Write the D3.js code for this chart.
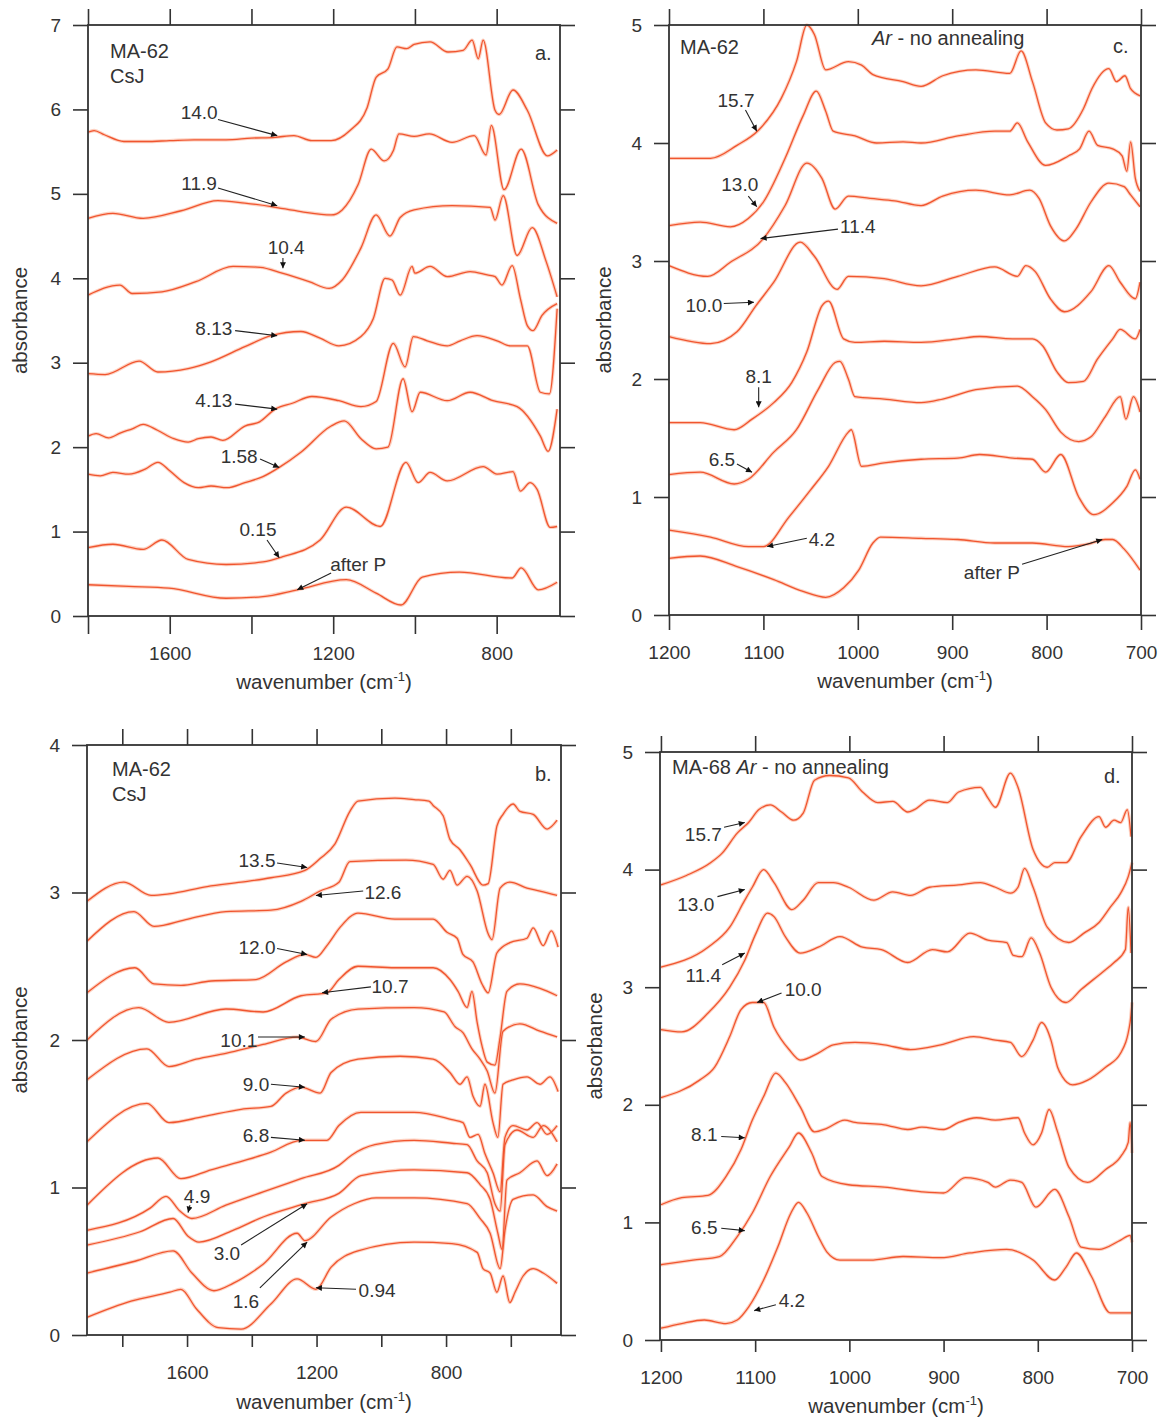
<!DOCTYPE html>
<html>
<head>
<meta charset="utf-8">
<script src="https://cdn.jsdelivr.net/npm/d3@7"></script>
<style>
  body { margin: 0; background: #fff; }
  text { font-family: "Liberation Sans", Arial, sans-serif; fill: #333; }
</style>
</head>
<body>
<svg id="chart" width="1167" height="1419"></svg>
<script>
// ---- data: [wavenumber cm-1, absorbance] ----

// panel a (MA-62, CsJ)
const a14_0 = [[1800,5.73],[1785,5.75],[1760,5.70],[1712,5.62],[1660,5.62],[1600,5.63],[1540,5.64],[1462,5.64],[1400,5.66],[1342,5.67],[1296,5.69],[1252,5.63],[1205,5.63],[1159,5.75],[1117,6.02],[1095,6.38],[1066,6.48],[1044,6.74],[1020,6.72],[1002,6.77],[963,6.80],[919,6.68],[882,6.70],[860,6.82],[845,6.60],[833,6.82],[804,5.99],[794,5.94],[760,6.23],[725,5.99],[676,5.45],[652,5.52]];
const a11_9 = [[1800,4.71],[1739,4.77],[1665,4.71],[1572,4.80],[1482,4.92],[1416,4.89],[1352,4.85],[1279,4.79],[1205,4.75],[1178,4.81],[1139,5.11],[1107,5.53],[1075,5.39],[1053,5.51],[1039,5.71],[1002,5.68],[965,5.71],[909,5.61],[855,5.69],[826,5.46],[813,5.81],[782,5.05],[740,5.53],[698,4.87],[652,4.65]];
const a10_4 = [[1800,3.80],[1722,3.92],[1692,3.82],[1619,3.84],[1536,3.96],[1445,4.14],[1379,4.13],[1325,4.06],[1259,3.96],[1210,3.88],[1178,3.98],[1132,4.36],[1095,4.75],[1061,4.50],[1036,4.72],[1002,4.81],[909,4.86],[816,4.84],[804,4.69],[784,4.98],[750,4.27],[713,4.60],[679,4.20],[652,3.78]];
const a8_13 = [[1800,2.87],[1758,2.86],[1675,3.02],[1629,2.89],[1555,2.93],[1499,3.01],[1416,3.19],[1352,3.32],[1279,3.37],[1232,3.29],[1186,3.20],[1132,3.31],[1102,3.52],[1073,4.00],[1056,3.98],[1036,3.80],[1007,4.14],[1000,4.06],[963,4.14],[921,4.02],[865,4.08],[823,4.04],[804,4.02],[787,3.92],[762,4.15],[742,3.76],[725,3.44],[711,3.38],[689,3.56],[652,3.70]];
const a4_13 = [[1800,2.13],[1780,2.16],[1750,2.11],[1720,2.17],[1690,2.22],[1665,2.27],[1630,2.20],[1590,2.10],[1555,2.06],[1530,2.10],[1499,2.12],[1470,2.08],[1416,2.25],[1380,2.30],[1342,2.45],[1300,2.52],[1252,2.60],[1186,2.55],[1132,2.48],[1095,2.54],[1053,3.23],[1024,2.95],[1004,3.31],[970,3.26],[921,3.20],[889,3.26],[848,3.32],[799,3.26],[767,3.20],[725,3.20],[693,2.65],[671,2.63],[652,3.64]];
const a1_58 = [[1800,1.68],[1770,1.66],[1739,1.70],[1700,1.68],[1660,1.74],[1629,1.82],[1600,1.72],[1565,1.58],[1530,1.52],[1499,1.54],[1460,1.52],[1416,1.58],[1372,1.65],[1332,1.76],[1279,1.94],[1205,2.25],[1173,2.31],[1132,2.10],[1095,1.98],[1066,2.00],[1029,2.81],[1007,2.42],[987,2.65],[921,2.55],[865,2.65],[809,2.55],[750,2.48],[693,2.13],[674,1.95],[652,2.45]];
const a0_15 = [[1800,0.81],[1739,0.85],[1665,0.79],[1619,0.90],[1555,0.67],[1462,0.61],[1372,0.64],[1325,0.70],[1232,0.90],[1168,1.29],[1085,1.06],[1022,1.82],[992,1.58],[963,1.70],[921,1.60],[833,1.77],[799,1.68],[760,1.71],[742,1.48],[718,1.58],[701,1.50],[669,1.05],[652,1.06]];
const aAfterP = [[1800,0.37],[1700,0.35],[1602,0.33],[1462,0.21],[1372,0.23],[1288,0.31],[1168,0.43],[1095,0.27],[1034,0.13],[982,0.46],[891,0.52],[762,0.45],[740,0.57],[698,0.31],[652,0.40]];

// panel c (MA-62, Ar - no annealing)
const c15_7 = [[1199,3.87],[1156,3.87],[1128,3.98],[1105,4.11],[1081,4.38],[1065,4.69],[1054,5.0],[1046,4.92],[1034,4.62],[1010,4.69],[996,4.66],[984,4.58],[952,4.52],[933,4.48],[910,4.57],[875,4.62],[839,4.59],[827,4.78],[815,4.52],[801,4.17],[789,4.11],[777,4.12],[761,4.29],[752,4.46],[734,4.63],[726,4.52],[717,4.57],[711,4.46],[701,4.40]];
const c13_0 = [[1200,3.30],[1167,3.33],[1135,3.29],[1116,3.36],[1100,3.50],[1077,3.87],[1058,4.23],[1044,4.44],[1034,4.27],[1026,4.10],[1003,4.06],[980,4.00],[952,4.01],[933,4.00],[894,4.06],[855,4.10],[839,4.10],[831,4.17],[820,4.01],[801,3.81],[777,3.89],[765,3.95],[755,4.10],[746,3.98],[730,3.95],[720,3.89],[715,3.76],[711,4.01],[706,3.70],[701,3.59]];
const c11_4 = [[1200,2.96],[1159,2.87],[1135,2.99],[1100,3.19],[1077,3.47],[1054,3.83],[1038,3.70],[1024,3.44],[1010,3.55],[987,3.53],[961,3.51],[933,3.47],[910,3.55],[875,3.60],[839,3.56],[818,3.60],[808,3.53],[796,3.30],[781,3.17],[769,3.27],[753,3.50],[734,3.66],[718,3.63],[711,3.56],[701,3.46]];
const c10_0 = [[1200,2.36],[1156,2.30],[1128,2.40],[1108,2.62],[1089,2.82],[1061,3.16],[1046,3.04],[1022,2.76],[1010,2.87],[972,2.85],[933,2.79],[894,2.87],[855,2.95],[831,2.87],[822,2.96],[812,2.91],[796,2.68],[781,2.57],[753,2.74],[734,2.96],[722,2.82],[706,2.68],[701,2.82]];
const c8_1 = [[1200,1.63],[1167,1.63],[1131,1.57],[1112,1.66],[1089,1.80],[1070,1.97],[1054,2.23],[1038,2.62],[1031,2.66],[1015,2.34],[1003,2.31],[972,2.32],[933,2.31],[894,2.34],[871,2.36],[836,2.34],[815,2.34],[804,2.28],[789,2.06],[777,1.97],[761,1.98],[746,2.17],[730,2.34],[722,2.42],[706,2.34],[701,2.42]];
const c6_5 = [[1200,1.19],[1167,1.21],[1131,1.11],[1116,1.15],[1089,1.38],[1065,1.57],[1042,1.91],[1024,2.14],[1019,2.15],[1010,2.00],[1003,1.85],[972,1.83],[933,1.80],[910,1.83],[875,1.91],[831,1.94],[815,1.85],[801,1.74],[785,1.55],[766,1.47],[753,1.51],[738,1.68],[722,1.85],[716,1.66],[708,1.85],[701,1.72]];
const c4_2 = [[1200,0.72],[1156,0.66],[1116,0.58],[1100,0.58],[1073,0.83],[1050,1.06],[1031,1.26],[1010,1.55],[1007,1.57],[996,1.26],[972,1.29],[933,1.32],[894,1.33],[871,1.36],[836,1.33],[815,1.32],[801,1.21],[785,1.36],[766,1.00],[750,0.85],[730,0.95],[715,1.09],[706,1.23],[701,1.15]];
const cAfterP = [[1200,0.48],[1167,0.50],[1128,0.41],[1089,0.30],[1058,0.20],[1034,0.15],[1015,0.23],[999,0.38],[984,0.61],[976,0.66],[933,0.65],[894,0.64],[855,0.61],[815,0.61],[777,0.58],[757,0.60],[738,0.64],[730,0.64],[718,0.56],[701,0.38]];

// panel b (MA-62, CsJ)
const b13_5 = [[1909,2.94],[1795,3.07],[1711,2.98],[1656,2.99],[1538,3.04],[1433,3.07],[1341,3.10],[1236,3.15],[1189,3.23],[1143,3.33],[1097,3.55],[1072,3.62],[958,3.64],[899,3.63],[853,3.62],[840,3.59],[809,3.52],[788,3.36],[757,3.29],[726,3.19],[686,3.05],[670,3.06],[643,3.45],[624,3.53],[593,3.60],[572,3.55],[531,3.53],[488,3.43],[457,3.49]];
const b12_6 = [[1909,2.67],[1764,2.87],[1702,2.77],[1597,2.82],[1480,2.87],[1341,2.88],[1248,2.94],[1189,3.01],[1131,3.07],[1097,3.21],[924,3.22],[840,3.19],[809,3.09],[788,3.15],[766,3.05],[735,3.11],[704,3.01],[670,2.72],[658,2.68],[633,3.03],[603,3.07],[550,3.03],[510,3.01],[457,2.98]];
const b12_0 = [[1909,2.32],[1761,2.49],[1702,2.38],[1619,2.37],[1526,2.40],[1387,2.41],[1294,2.53],[1236,2.58],[1202,2.56],[1168,2.64],[1125,2.77],[1072,2.86],[958,2.82],[840,2.82],[797,2.73],[766,2.69],[748,2.58],[717,2.53],[689,2.38],[670,2.32],[643,2.59],[603,2.66],[550,2.69],[531,2.76],[500,2.64],[475,2.74],[454,2.63]];
const b10_7 = [[1909,2.00],[1749,2.22],[1656,2.12],[1480,2.21],[1365,2.19],[1248,2.30],[1168,2.32],[1131,2.41],[1072,2.50],[958,2.49],[840,2.49],[788,2.41],[763,2.33],[735,2.22],[720,2.33],[704,2.12],[689,1.96],[673,1.85],[649,1.83],[633,2.02],[612,2.33],[572,2.38],[510,2.35],[457,2.30]];
const b10_1 = [[1909,1.73],[1724,1.94],[1656,1.82],[1572,1.87],[1480,1.91],[1365,1.97],[1260,2.02],[1202,1.99],[1155,2.14],[1072,2.21],[899,2.22],[806,2.19],[772,2.09],[748,2.05],[720,1.94],[695,1.87],[673,1.79],[649,1.64],[624,2.06],[572,2.11],[510,2.06],[457,2.02]];
const b9_0 = [[1909,1.31],[1724,1.57],[1656,1.44],[1551,1.48],[1433,1.53],[1341,1.55],[1294,1.64],[1248,1.68],[1189,1.64],[1155,1.78],[1072,1.87],[942,1.89],[840,1.87],[788,1.78],[757,1.70],[735,1.75],[717,1.62],[695,1.55],[680,1.70],[655,1.44],[640,1.34],[624,1.70],[593,1.73],[550,1.75],[510,1.70],[479,1.75],[454,1.65]];
const b6_8 = [[1909,0.88],[1690,1.20],[1619,1.06],[1526,1.12],[1412,1.19],[1341,1.24],[1248,1.32],[1168,1.32],[1131,1.42],[1063,1.51],[899,1.51],[782,1.46],[748,1.44],[726,1.34],[701,1.36],[680,1.23],[655,1.10],[633,0.97],[618,1.34],[593,1.42],[550,1.39],[519,1.44],[488,1.36],[457,1.42]];
const b4_9 = [[1909,0.71],[1714,0.86],[1665,0.94],[1622,0.84],[1585,0.79],[1480,0.88],[1365,0.97],[1248,1.06],[1131,1.15],[1091,1.22],[1020,1.29],[899,1.32],[782,1.30],[735,1.29],[704,1.18],[673,1.10],[649,0.89],[633,0.84],[618,1.29],[581,1.39],[531,1.34],[500,1.42],[457,1.31]];
const b3_0 = [[1909,0.61],[1745,0.70],[1643,0.79],[1597,0.67],[1563,0.63],[1458,0.71],[1365,0.80],[1236,0.89],[1131,0.96],[1063,1.08],[899,1.12],[735,1.10],[695,1.02],[664,0.92],[640,0.69],[627,0.58],[612,1.05],[572,1.10],[519,1.18],[488,1.08],[457,1.16]];
const b1_6 = [[1909,0.42],[1761,0.50],[1643,0.57],[1585,0.42],[1517,0.30],[1458,0.35],[1365,0.48],[1260,0.69],[1236,0.64],[1155,0.80],[1084,0.89],[1016,0.93],[899,0.93],[735,0.89],[695,0.79],[664,0.69],[633,0.45],[618,0.71],[593,0.92],[531,0.95],[488,0.87],[457,0.84]];
const b0_94 = [[1909,0.12],[1773,0.23],[1653,0.29],[1619,0.31],[1572,0.18],[1504,0.05],[1433,0.04],[1341,0.21],[1260,0.38],[1202,0.31],[1155,0.46],[1072,0.57],[899,0.63],[782,0.62],[704,0.56],[686,0.45],[664,0.42],[643,0.29],[624,0.40],[603,0.22],[587,0.29],[562,0.40],[531,0.45],[500,0.42],[457,0.35]];

// panel d (MA-68, Ar - no annealing)
const d15_7 = [[1200,3.87],[1173,3.95],[1147,4.06],[1135,4.14],[1119,4.31],[1107,4.40],[1096,4.51],[1084,4.55],[1072,4.49],[1059,4.42],[1049,4.48],[1037,4.76],[1021,4.80],[1001,4.78],[986,4.66],[970,4.57],[954,4.58],[938,4.49],[931,4.51],[915,4.59],[896,4.57],[884,4.66],[861,4.70],[853,4.61],[845,4.53],[829,4.82],[821,4.70],[805,4.17],[790,4.02],[782,4.06],[770,4.06],[754,4.28],[735,4.45],[728,4.36],[719,4.42],[712,4.40],[705,4.51],[701,4.28]];
const d13_0 = [[1200,3.17],[1150,3.34],[1127,3.51],[1111,3.74],[1103,3.85],[1091,4.00],[1080,3.89],[1061,3.66],[1049,3.74],[1033,3.89],[1017,3.89],[1001,3.85],[974,3.74],[954,3.81],[935,3.78],[915,3.85],[884,3.87],[861,3.89],[845,3.85],[829,3.80],[821,3.85],[814,4.01],[805,3.85],[790,3.51],[767,3.38],[751,3.46],[735,3.55],[723,3.68],[712,3.80],[704,3.94],[700,4.06]];
const d11_4 = [[1200,2.64],[1178,2.62],[1150,2.78],[1127,3.00],[1111,3.23],[1099,3.46],[1087,3.63],[1080,3.60],[1068,3.43],[1052,3.29],[1033,3.34],[1010,3.43],[986,3.34],[966,3.32],[938,3.21],[912,3.32],[896,3.30],[872,3.46],[853,3.40],[833,3.38],[826,3.27],[817,3.26],[807,3.42],[798,3.29],[786,3.00],[770,2.87],[754,2.98],[731,3.13],[719,3.21],[707,3.32],[704,3.68],[701,3.29]];
const d10_0 = [[1200,2.06],[1159,2.21],[1143,2.32],[1127,2.58],[1115,2.81],[1103,2.87],[1091,2.87],[1080,2.66],[1064,2.47],[1052,2.38],[1033,2.44],[1017,2.51],[994,2.53],[963,2.51],[935,2.47],[903,2.51],[868,2.58],[845,2.55],[829,2.53],[817,2.41],[805,2.55],[796,2.70],[786,2.55],[779,2.32],[774,2.24],[763,2.17],[747,2.21],[728,2.32],[712,2.44],[702,2.70],[700,2.87]];
const d8_1 = [[1200,1.15],[1178,1.21],[1150,1.23],[1131,1.39],[1115,1.62],[1103,1.87],[1091,2.07],[1078,2.27],[1068,2.19],[1052,1.98],[1037,1.77],[1024,1.80],[1005,1.87],[994,1.85],[963,1.83],[938,1.79],[923,1.81],[900,1.79],[884,1.85],[865,1.89],[845,1.87],[821,1.89],[814,1.76],[805,1.66],[796,1.76],[788,1.96],[779,1.77],[767,1.47],[747,1.34],[728,1.45],[712,1.56],[704,1.68],[702,1.85],[700,1.59]];
const d6_5 = [[1200,0.64],[1166,0.68],[1138,0.71],[1119,0.88],[1103,1.08],[1084,1.39],[1064,1.64],[1054,1.76],[1040,1.59],[1029,1.39],[1001,1.32],[963,1.30],[923,1.26],[900,1.25],[877,1.38],[853,1.34],[845,1.30],[829,1.36],[817,1.34],[802,1.13],[782,1.28],[767,1.05],[754,0.79],[735,0.77],[712,0.85],[702,0.89],[700,0.83]];
const d4_2 = [[1200,0.10],[1178,0.14],[1154,0.17],[1131,0.14],[1119,0.17],[1107,0.28],[1091,0.51],[1076,0.79],[1062,1.08],[1054,1.17],[1045,1.08],[1033,0.88],[1024,0.75],[1010,0.68],[978,0.68],[943,0.71],[903,0.70],[872,0.74],[833,0.77],[805,0.68],[782,0.51],[770,0.62],[759,0.74],[743,0.54],[723,0.23],[712,0.23],[700,0.23]];

// annotations: [label, text wn, text abs, arrow start wn, abs, arrow tip wn, abs]
const notesA = [
  ["14.0",1528,5.96,1482,5.88,1337,5.69],
  ["11.9",1528,5.12,1482,5.07,1337,4.86],
  ["10.4",1315,4.37,1323,4.24,1323,4.12],
  ["8.13",1492,3.40,1440,3.38,1337,3.32],
  ["4.13",1492,2.55,1440,2.51,1337,2.45],
  ["1.58",1430,1.89,1379,1.86,1332,1.76],
  ["0.15",1384,1.02,1362,0.90,1332,0.69],
  ["after P",1139,0.61,1205,0.51,1288,0.31]
];
const notesC = [
  ["15.7",1129,4.36,1119,4.28,1107,4.10],
  ["13.0",1125,3.65,1116,3.55,1107,3.46],
  ["11.4",1000,3.29,1021,3.27,1103,3.19],
  ["10.0",1163,2.62,1142,2.64,1110,2.65],
  ["8.1",1105,2.02,1105,1.93,1105,1.76],
  ["6.5",1144,1.32,1128,1.28,1112,1.21],
  ["4.2",1038,0.64,1054,0.65,1096,0.58],
  ["after P",858,0.36,826,0.43,741,0.64]
];
const notesB = [
  ["13.5",1384,3.22,1322,3.20,1229,3.17],
  ["12.6",995,3.00,1056,3.01,1202,2.98],
  ["12.0",1384,2.63,1322,2.62,1229,2.58],
  ["10.7",973,2.36,1032,2.36,1183,2.32],
  ["10.1",1440,2.00,1381,2.02,1236,2.02],
  ["9.0",1387,1.70,1341,1.70,1236,1.68],
  ["6.8",1387,1.35,1341,1.34,1236,1.32],
  ["4.9",1569,0.94,1591,0.88,1597,0.83],
  ["3.0",1477,0.55,1433,0.61,1229,0.89],
  ["1.6",1418,0.23,1375,0.32,1229,0.63],
  ["0.94",1013,0.30,1078,0.31,1202,0.32]
];
const notesD = [
  ["15.7",1155,4.30,1133,4.36,1111,4.40],
  ["13.0",1163,3.70,1140,3.77,1111,3.83],
  ["11.4",1155,3.10,1135,3.19,1111,3.29],
  ["10.0",1049,2.98,1072,2.95,1098,2.87],
  ["8.1",1154,1.75,1136,1.73,1111,1.72],
  ["6.5",1154,0.96,1136,0.95,1111,0.93],
  ["4.2",1061,0.34,1078,0.30,1101,0.25]
];
const serifNotesD = ["15.7", "13.0", "11.4"];

// ticks
const wideTicksA = [1800, 1600, 1400, 1200, 1000, 800];
const wideTicksB = [1800, 1600, 1400, 1200, 1000, 800, 600];
const wideLabels = [1600, 1200, 800];
const narrowTicks = [1200, 1100, 1000, 900, 800, 700];
const absTicks7 = [0, 1, 2, 3, 4, 5, 6, 7];
const absTicks5 = [0, 1, 2, 3, 4, 5];
const absTicks4 = [0, 1, 2, 3, 4];

// ---- drawing ----
const svg = d3.select("#chart");
svg.append("rect").attr("width", 1167).attr("height", 1419).attr("fill", "#fff");

svg.append("defs").append("marker")
    .attr("id", "arrowhead")
    .attr("viewBox", "0 0 10 10")
    .attr("refX", 10).attr("refY", 5)
    .attr("markerWidth", 10).attr("markerHeight", 6)
    .attr("markerUnits", "userSpaceOnUse")
    .attr("orient", "auto")
    .append("path").attr("d", "M0,0L10,5L0,10z").attr("fill", "#111");

const FONT = 19;
const TITLE = 20.5;

const drawPanel = p => {
    const x = d3.scaleLinear().domain(p.xDomain).range([p.left, p.right]);
    const y = d3.scaleLinear().domain(p.yDomain).range([p.bottom, p.top]);
    const g = svg.append("g");
    const line = d3.line().x(d => x(d[0])).y(d => y(d[1])).curve(d3.curveMonotoneX);

    // spectra: soft halo + core
    g.append("g").selectAll("path").data(p.series).join("path")
        .attr("d", line).attr("fill", "none")
        .attr("stroke", "#fbb397").attr("stroke-width", 3.4).attr("stroke-opacity", 0.6)
        .attr("stroke-linejoin", "round");
    g.append("g").selectAll("path").data(p.series).join("path")
        .attr("d", line).attr("fill", "none")
        .attr("stroke", "#f0552f").attr("stroke-width", 1.3)
        .attr("stroke-linejoin", "round");

    // axes (ticks outside the frame on all four sides)
    const fmt = v => p.xLabels.includes(v) ? v : "";
    const styleAxis = sel => {
        sel.select(".domain").remove();
        sel.selectAll("line").attr("stroke", "#333").attr("stroke-width", 1.6);
        sel.selectAll("text").attr("font-size", FONT)
            .attr("font-family", '"Liberation Sans", Arial, sans-serif').attr("fill", "#333");
    };
    g.append("g").attr("transform", `translate(0,${p.bottom})`)
        .call(d3.axisBottom(x).tickValues(p.xTicks).tickFormat(fmt).tickSize(p.tickB).tickPadding(31 - p.tickB))
        .call(styleAxis);
    g.append("g").attr("transform", `translate(0,${p.top})`)
        .call(d3.axisTop(x).tickValues(p.xTicks).tickFormat("").tickSize(16))
        .call(styleAxis);
    g.append("g").attr("transform", `translate(${p.left},0)`)
        .call(d3.axisLeft(y).tickValues(p.yTicks).tickFormat(d3.format("d")).tickSize(15).tickPadding(12))
        .call(styleAxis);
    g.append("g").attr("transform", `translate(${p.right},0)`)
        .call(d3.axisRight(y).tickValues(p.yTicks).tickFormat("").tickSize(15))
        .call(styleAxis);

    // frame
    g.append("rect")
        .attr("x", p.left).attr("y", p.top)
        .attr("width", p.right - p.left).attr("height", p.bottom - p.top)
        .attr("fill", "none").attr("stroke", "#333").attr("stroke-width", 1.8);

    // axis titles
    g.append("text")
        .attr("transform", `translate(${p.yTitleX},${(p.top + p.bottom) / 2}) rotate(-90)`)
        .attr("text-anchor", "middle").attr("dominant-baseline", "central")
        .attr("font-size", TITLE).text("absorbance");
    const xt = g.append("text")
        .attr("x", (p.left + p.right) / 2).attr("y", p.xTitleY)
        .attr("text-anchor", "middle").attr("font-size", TITLE);
    xt.append("tspan").text("wavenumber (cm");
    xt.append("tspan").attr("dy", -8).attr("font-size", 13).text("-1");
    xt.append("tspan").attr("dy", 8).text(")");

    // panel captions
    p.captions.forEach(c => {
        const t = g.append("text").attr("x", c.x).attr("y", c.y)
            .attr("font-size", c.size || 20).attr("fill", c.color || "#333");
        c.parts.forEach(([s, italic]) => {
            const sp = t.append("tspan").text(s);
            if (italic) sp.attr("font-style", "italic");
        });
    });

    // arrows + labels
    g.append("g").selectAll("line").data(p.notes).join("line")
        .attr("x1", d => x(d[3])).attr("y1", d => y(d[4]))
        .attr("x2", d => x(d[5])).attr("y2", d => y(d[6]))
        .attr("stroke", "#222").attr("stroke-width", 1.1)
        .attr("marker-end", "url(#arrowhead)");
    g.append("g").selectAll("text").data(p.notes).join("text")
        .attr("x", d => x(d[1])).attr("y", d => y(d[2]))
        .attr("text-anchor", "middle").attr("dominant-baseline", "central")
        .attr("font-size", FONT)
        .attr("font-family", d => (p.serif || []).includes(d[0]) ? '"Liberation Serif", "Times New Roman", serif' : null)
        .text(d => d[0]);
};

drawPanel({
    left: 88, right: 560, top: 25, bottom: 616,
    xDomain: [1800, 645], yDomain: [0, 7],
    xTicks: wideTicksA, xLabels: wideLabels, yTicks: absTicks7, tickB: 18,
    yTitleX: 19, xTitleY: 689,
    series: [a14_0, a11_9, a10_4, a8_13, a4_13, a1_58, a0_15, aAfterP],
    notes: notesA,
    captions: [
        { x: 110, y: 58, parts: [["MA-62"]] },
        { x: 110, y: 83, parts: [["CsJ"]] },
        { x: 535, y: 60, parts: [["a."]], color: "#999" }
    ]
});

drawPanel({
    left: 669, right: 1141, top: 25, bottom: 615,
    xDomain: [1200, 700], yDomain: [0, 5],
    xTicks: narrowTicks, xLabels: narrowTicks, yTicks: absTicks5, tickB: 15,
    yTitleX: 603, xTitleY: 688,
    series: [c15_7, c13_0, c11_4, c10_0, c8_1, c6_5, c4_2, cAfterP],
    notes: notesC,
    captions: [
        { x: 680, y: 54, parts: [["MA-62"]] },
        { x: 872, y: 45, parts: [["Ar", true], [" - no annealing"]] },
        { x: 1113, y: 53, parts: [["c."]], color: "#999" }
    ]
});

drawPanel({
    left: 87, right: 561, top: 745, bottom: 1335,
    xDomain: [1909, 445], yDomain: [0, 4],
    xTicks: wideTicksB, xLabels: wideLabels, yTicks: absTicks4, tickB: 12,
    yTitleX: 19, xTitleY: 1409,
    series: [b13_5, b12_6, b12_0, b10_7, b10_1, b9_0, b6_8, b4_9, b3_0, b1_6, b0_94],
    notes: notesB,
    captions: [
        { x: 112, y: 776, parts: [["MA-62"]] },
        { x: 112, y: 801, parts: [["CsJ"]] },
        { x: 535, y: 781, parts: [["b."]], color: "#999" }
    ]
});

drawPanel({
    left: 660, right: 1132, top: 752, bottom: 1340,
    xDomain: [1201, 700], yDomain: [0, 5],
    xTicks: narrowTicks, xLabels: narrowTicks, yTicks: absTicks5, tickB: 12,
    yTitleX: 594, xTitleY: 1413,
    series: [d15_7, d13_0, d11_4, d10_0, d8_1, d6_5, d4_2],
    notes: notesD, serif: serifNotesD,
    captions: [
        { x: 672, y: 774, parts: [["MA-68   "], ["Ar", true], [" - no annealing"]] },
        { x: 1104, y: 783, parts: [["d."]], color: "#999" }
    ]
});
</script>
</body>
</html>
